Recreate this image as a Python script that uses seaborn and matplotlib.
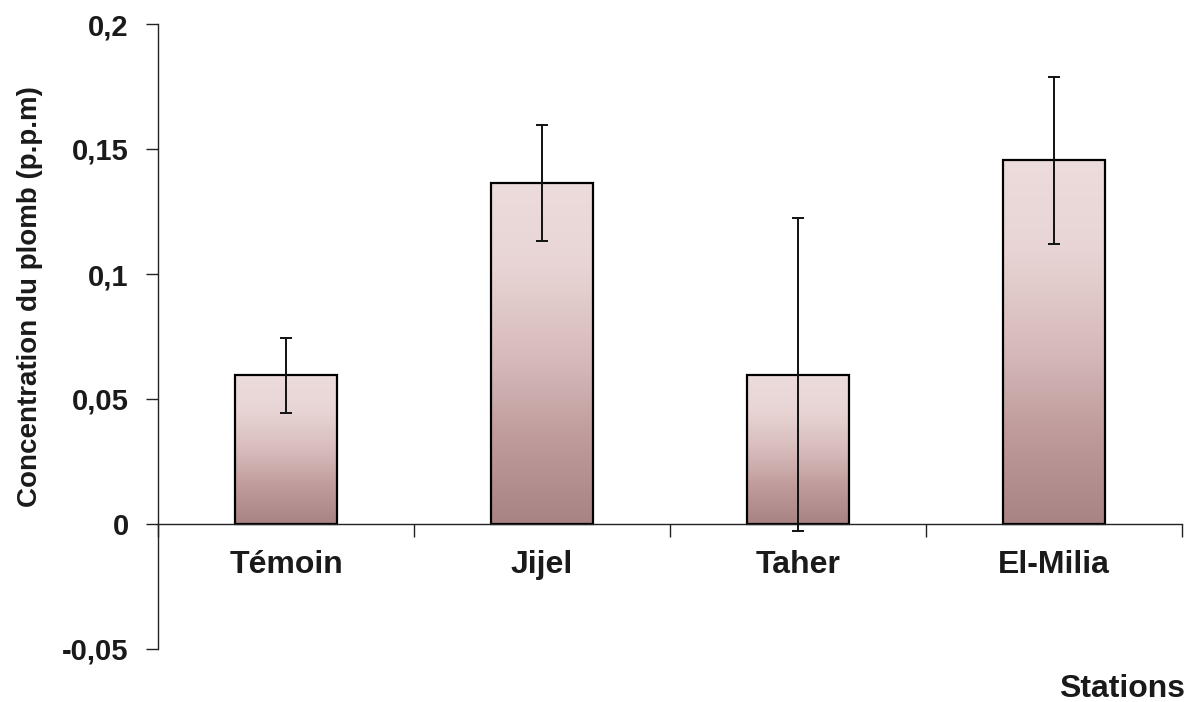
import numpy as np
import pandas as pd
import matplotlib
matplotlib.use('Agg')
import matplotlib.pyplot as plt
import seaborn as sns
from matplotlib.colors import LinearSegmentedColormap
from matplotlib.ticker import FuncFormatter, MultipleLocator, FixedLocator

# Data
stations = ['Témoin', 'Jijel', 'Taher', 'El-Milia']
lead_mean = [0.0595, 0.1365, 0.0598, 0.1455]
lead_err = [0.0150, 0.0232, 0.0626, 0.0335]
y_ticks = [-0.05, 0, 0.05, 0.1, 0.15, 0.2]

sns.set_theme(style='white')
plt.rcParams['font.family'] = ['Liberation Sans', 'DejaVu Sans']
plt.rcParams['font.weight'] = 'bold'

fig = plt.figure(figsize=(12.02, 7.02), dpi=100)
ax = fig.add_axes([158 / 1202, 1 - 649 / 702, 1024 / 1202, 625 / 702])

df = pd.DataFrame({'Station': stations, 'Pb': lead_mean})
sns.barplot(data=df, x='Station', y='Pb', ax=ax, width=0.4,
            errorbar=None, color='white', edgecolor='black', linewidth=1.6)

# Gradient fill inside each bar (light pink top -> dusty brown bottom)
grad_cmap = LinearSegmentedColormap.from_list(
    'pinkgrad', ['#a78383', '#bf9b9b', '#d8bcbc', '#e8d4d4', '#eddcdc'])
grad = np.linspace(0, 1, 256).reshape(-1, 1)
for patch in ax.patches:
    x0, y0 = patch.get_x(), patch.get_y()
    w, h = patch.get_width(), patch.get_height()
    im = ax.imshow(grad, cmap=grad_cmap, aspect='auto', origin='lower',
                   extent=[x0, x0 + w, y0, y0 + h], zorder=1.5)
    im.set_clip_path(patch)
    patch.set_facecolor('none')
    patch.set_zorder(2)

ax.errorbar(np.arange(len(stations)), lead_mean, yerr=lead_err, fmt='none',
            ecolor='#111111', elinewidth=1.4, capsize=4, capthick=1.4, zorder=3)

ax.set_xlim(-0.5, len(stations) - 0.5)
ax.set_ylim(-0.05, 0.2)
ax.yaxis.set_major_locator(FixedLocator(y_ticks))
ax.yaxis.set_major_formatter(FuncFormatter(
    lambda v, p: ('%g' % round(v, 3)).replace('.', ',')))

for s in ['top', 'right']:
    ax.spines[s].set_visible(False)
ax.spines['left'].set_color('#222222')
ax.spines['left'].set_linewidth(1.0)
ax.spines['bottom'].set_position(('data', 0))
ax.spines['bottom'].set_color('#222222')
ax.spines['bottom'].set_linewidth(1.0)

ax.tick_params(axis='y', which='major', direction='out', length=9, width=1,
               left=True, labelsize=21, pad=12, colors='#222222', labelcolor='#1a1a1a')
ax.tick_params(axis='x', which='major', length=0, labelsize=23, pad=19,
               labelcolor='#1a1a1a')
ax.xaxis.set_minor_locator(MultipleLocator(1, offset=0.5))
ax.tick_params(axis='x', which='minor', direction='out', length=9, width=1,
               bottom=True, colors='#222222')
for lab in ax.get_xticklabels() + ax.get_yticklabels():
    lab.set_fontweight('bold')

ax.set_xlabel('')
ax.set_ylabel('Concentration du plomb (p.p.m)', fontsize=20, fontweight='bold',
              color='#1a1a1a', va='center')
ax.yaxis.set_label_coords(30 / 1202, 1 - 297 / 702, transform=fig.transFigure)
fig.text(1122 / 1202, 1 - 689 / 702, 'Stations', ha='center', va='center',
         fontsize=23, fontweight='bold', color='#1a1a1a')

fig.savefig('out.png', dpi=100, facecolor='white')
